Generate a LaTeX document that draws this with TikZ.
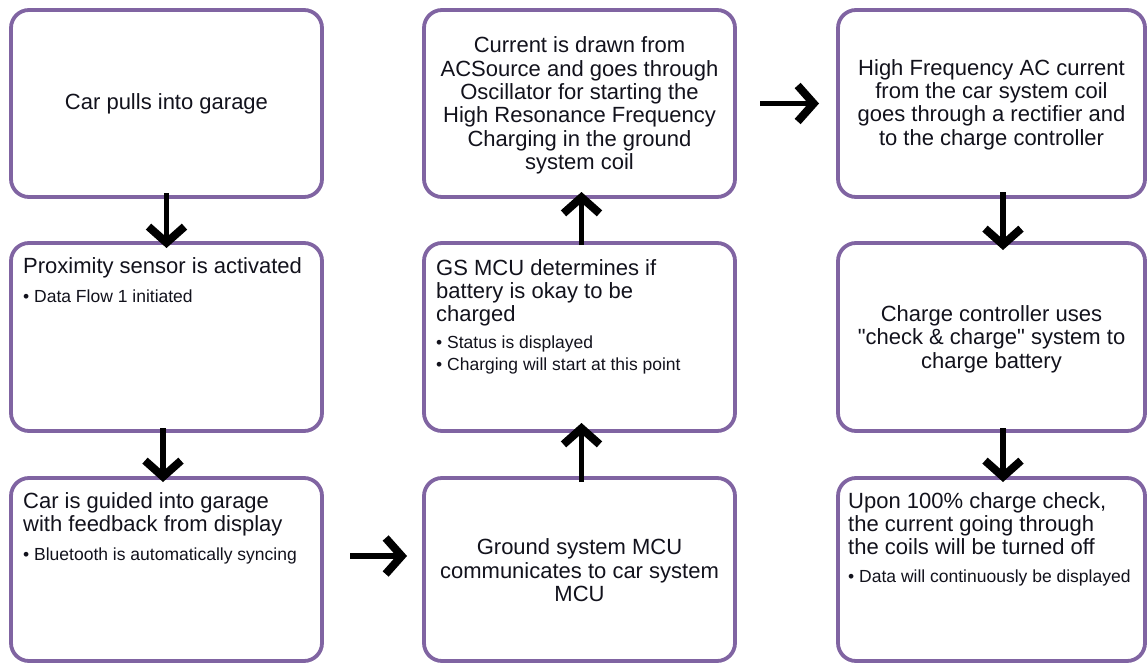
\documentclass[tikz,border=0pt]{standalone}
\usepackage{fontspec}
\setmainfont{Liberation Sans}
\usetikzlibrary{arrows.meta}
\definecolor{boxpurple}{RGB}{128,100,162}
\definecolor{inktext}{RGB}{18,18,28}

\begin{document}
\begin{tikzpicture}[x=1pt,y=-1pt,
  stepbox/.style={draw=boxpurple, line width=3.8pt, rounded corners=18pt,
    fill=white, inner sep=0pt, outer sep=0pt},
  headtext/.style={inner sep=0pt, text=inktext,
    font=\fontsize{22}{23.4}\selectfont},
  bullettext/.style={inner sep=0pt, text=inktext, align=left,
    font=\fontsize{17.5}{22}\selectfont},
  flow/.style={draw=black, line width=5.5pt, line join=miter,
    -{Straight Barb[length=16pt,width=36pt,line width=8pt,line join=miter,line cap=butt]}},
]
\useasboundingbox (0,0) rectangle (1147,663);

% boxes: three columns, three rows
\node[stepbox, minimum width=311pt, minimum height=187pt] (b1) at (166.5,103.5) {};
\node[stepbox, minimum width=311pt, minimum height=188pt] (b2) at (166.5,337) {};
\node[stepbox, minimum width=311pt, minimum height=183pt] (b3) at (166.5,569.5) {};
\node[stepbox, minimum width=311pt, minimum height=187pt] (b4) at (579.5,103.5) {};
\node[stepbox, minimum width=311pt, minimum height=188pt] (b5) at (579.5,337) {};
\node[stepbox, minimum width=311pt, minimum height=183pt] (b6) at (579.5,569.5) {};
\node[stepbox, minimum width=307pt, minimum height=187pt] (b7) at (991.5,103.5) {};
\node[stepbox, minimum width=307pt, minimum height=188pt] (b8) at (991.5,337) {};
\node[stepbox, minimum width=307pt, minimum height=183pt] (b9) at (991.5,569.5) {};

% texts
\node[headtext, align=center] (t1) at (b1.center) {Car pulls into garage};

\node[headtext, align=left, anchor=north west] (t2h)
  at ([shift={(12,14)}]b2.north west) {Proximity sensor is activated};
\node[bullettext, anchor=north west] (t2b)
  at ([shift={(12,47)}]b2.north west) {•~Data Flow 1 initiated};

\node[headtext, align=left, anchor=north west] (t3h)
  at ([shift={(12,14)}]b3.north west) {Car is guided into garage\\with feedback from display};
\node[bullettext, anchor=north west] (t3b)
  at ([shift={(12,70)}]b3.north west) {•~Bluetooth is automatically syncing};

\node[headtext, align=center] (t4) at ([yshift=-2]b4.center)
  {Current is drawn from\\ACSource and goes through\\Oscillator for starting the\\High Resonance Frequency\\Charging in the ground\\system coil};

\node[headtext, align=left, anchor=north west] (t5h)
  at ([shift={(12,16)}]b5.north west) {GS MCU determines if\\battery is okay to be\\charged};
\node[bullettext, anchor=north west] (t5b)
  at ([shift={(12,93)}]b5.north west) {•~Status is displayed\\•~Charging will start at this point};

\node[headtext, align=center] (t6) at ([yshift=-1]b6.center)
  {Ground system MCU\\communicates to car system\\MCU};

\node[headtext, align=center] (t7) at ([yshift=-1]b7.center)
  {High Frequency AC current\\from the car system coil\\goes through a rectifier and\\to the charge controller};

\node[headtext, align=center] (t8) at ([yshift=-2]b8.center)
  {Charge controller uses\\\textquotedbl check \& charge\textquotedbl\ system to\\charge battery};

\node[headtext, align=left, anchor=north west] (t9h)
  at ([shift={(10,14)}]b9.north west) {Upon 100\% charge check,\\the current going through\\the coils will be turned off};
\node[bullettext, anchor=north west] (t9b)
  at ([shift={(10,92)}]b9.north west) {•~Data will continuously be displayed};

% connectors
\draw[flow, shorten <=-4pt, shorten >=-5pt] (b1.south) -- (b2.north);
\draw[flow, shorten <=-3pt, shorten >=-4pt] ([xshift=-3.5]b2.south) -- ([xshift=-3.5]b3.north);
\draw[flow, shorten <=28pt, shorten >=17pt] ([yshift=13.5]b3.east) -- ([yshift=13.5]b6.west);
\draw[flow, shorten <=-4pt, shorten >=-8pt] ([xshift=2]b6.north) -- ([xshift=2]b5.south);
\draw[flow, shorten <=-2pt, shorten >=-5pt] ([xshift=2]b5.north) -- ([xshift=2]b4.south);
\draw[flow, shorten <=25pt, shorten >=19pt] (b4.east) -- (b7.west);
\draw[flow, shorten <=-5pt, shorten >=-7pt] ([xshift=11.5]b7.south) -- ([xshift=11.5]b8.north);
\draw[flow, shorten <=-3pt, shorten >=-4pt] ([xshift=11.5]b8.south) -- ([xshift=11.5]b9.north);
\end{tikzpicture}
\end{document}
